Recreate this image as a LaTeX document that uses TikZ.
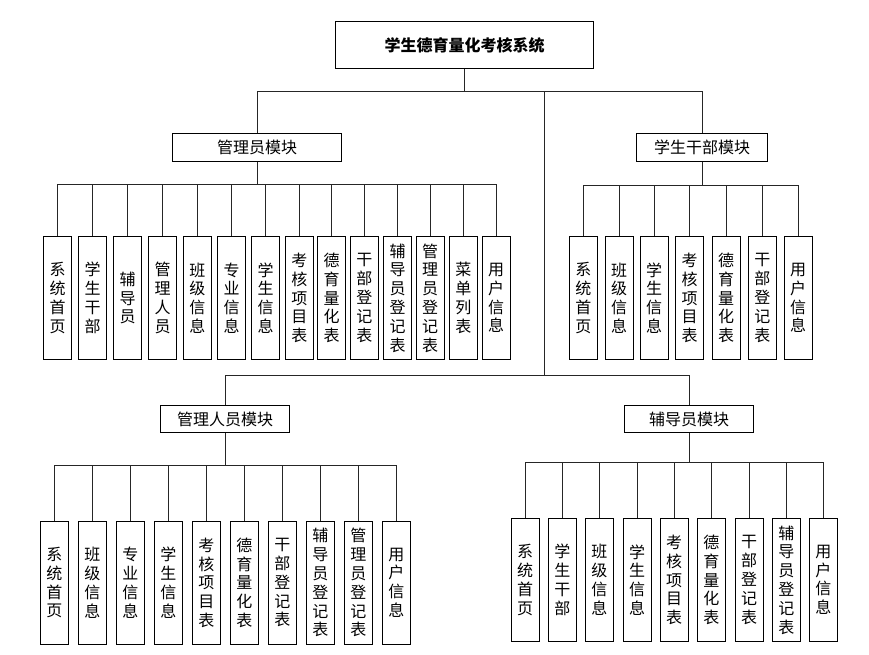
\documentclass[tikz,border=0pt]{standalone}
\usepackage{fontspec}
\setmainfont{Noto Sans CJK SC}
\begin{document}
\begin{tikzpicture}[x=1pt,y=-1pt,
  box/.style={draw=black,line width=1pt,inner sep=0pt,align=center,font=\fontsize{16}{18.8}\selectfont},
  modbox/.style={box,minimum height=28pt},
  leaf/.style={box,minimum width=28pt,minimum height=122.6pt},
  conn/.style={draw=black!85,line width=1pt}]
\useasboundingbox (0,0) rectangle (869,654);
% title
\node[box,minimum width=257.6pt,minimum height=46.6pt,font=\fontsize{16}{19.5}\selectfont\bfseries] (title) at (464.5,45) {学生德育量化考核系统};
% modules
\node[modbox,minimum width=169.4pt] (adm) at (257,147.5) {管理员模块};
\node[modbox,minimum width=130.6pt] (stu) at (702,147.5) {学生干部模块};
\node[modbox,minimum width=128.3pt,minimum height=26.6pt] (mgr) at (225,419) {管理人员模块};
\node[modbox,minimum width=129pt,minimum height=27pt] (cou) at (689,419) {辅导员模块};
% bus coordinates
\coordinate (t0) at (544,91);
\coordinate (t1) at (544,375.7);
\coordinate (b1) at (0,184.5);
\coordinate (b2) at (0,185);
\coordinate (b3) at (0,465.7);
\coordinate (b4) at (0,462.7);
% admin leaves
\node[leaf] (a1) at (57.7,298) {系\\统\\首\\页};
\node[leaf] (a2) at (92.7,298) {学\\生\\干\\部};
\node[leaf] (a3) at (127.7,298) {辅\\导\\员};
\node[leaf] (a4) at (162.7,298) {管\\理\\人\\员};
\node[leaf] (a5) at (197.3,298) {班\\级\\信\\息};
\node[leaf] (a6) at (231.7,298) {专\\业\\信\\息};
\node[leaf] (a7) at (265.7,298) {学\\生\\信\\息};
\node[leaf] (a8) at (299.3,298) {考\\核\\项\\目\\表};
\node[leaf] (a9) at (331.7,298) {德\\育\\量\\化\\表};
\node[leaf] (a10) at (364.3,298) {干\\部\\登\\记\\表};
\node[leaf] (a11) at (397.7,298) {辅\\导\\员\\登\\记\\表};
\node[leaf] (a12) at (430,298) {管\\理\\员\\登\\记\\表};
\node[leaf] (a13) at (463.3,298) {菜\\单\\列\\表};
\node[leaf] (a14) at (496,298) {用\\户\\信\\息};
% student cadre leaves
\node[leaf] (s1) at (583.3,298) {系\\统\\首\\页};
\node[leaf] (s2) at (619,298) {班\\级\\信\\息};
\node[leaf] (s3) at (654,298) {学\\生\\信\\息};
\node[leaf] (s4) at (689.7,298) {考\\核\\项\\目\\表};
\node[leaf] (s5) at (726,298) {德\\育\\量\\化\\表};
\node[leaf] (s6) at (762.3,298) {干\\部\\登\\记\\表};
\node[leaf] (s7) at (798,298) {用\\户\\信\\息};
% manager leaves
\node[leaf] (m1) at (54.3,582.7) {系\\统\\首\\页};
\node[leaf] (m2) at (92.3,582.7) {班\\级\\信\\息};
\node[leaf] (m3) at (130.3,582.7) {专\\业\\信\\息};
\node[leaf] (m4) at (168.3,582.7) {学\\生\\信\\息};
\node[leaf] (m5) at (206.3,582.7) {考\\核\\项\\目\\表};
\node[leaf] (m6) at (244.3,582.7) {德\\育\\量\\化\\表};
\node[leaf] (m7) at (282.3,582.7) {干\\部\\登\\记\\表};
\node[leaf] (m8) at (320.3,582.7) {辅\\导\\员\\登\\记\\表};
\node[leaf] (m9) at (358.3,582.7) {管\\理\\员\\登\\记\\表};
\node[leaf] (m10) at (396.3,582.7) {用\\户\\信\\息};
% counselor leaves
\node[leaf] (c1) at (525,579.9) {系\\统\\首\\页};
\node[leaf] (c2) at (562.3,579.9) {学\\生\\干\\部};
\node[leaf] (c3) at (599.3,579.9) {班\\级\\信\\息};
\node[leaf] (c4) at (637,579.9) {学\\生\\信\\息};
\node[leaf] (c5) at (674,579.9) {考\\核\\项\\目\\表};
\node[leaf] (c6) at (711.3,579.9) {德\\育\\量\\化\\表};
\node[leaf] (c7) at (749,579.9) {干\\部\\登\\记\\表};
\node[leaf] (c8) at (786.3,579.9) {辅\\导\\员\\登\\记\\表};
\node[leaf] (c9) at (823.3,579.9) {用\\户\\信\\息};
% top connectors
\draw[conn] (title.south) -- (title.south |- t0) -| (adm.north);
\draw[conn] (title.south |- t0) -| (stu.north);
\draw[conn] (t0) -- (t1) -| (mgr.north);
\draw[conn] (t1) -| (cou.north);
% leaf connectors
\foreach \i in {1,...,14} \draw[conn] (adm.south) -- (adm.south |- b1) -| (a\i.north);
\foreach \i in {1,...,7} \draw[conn] (stu.south) -- (stu.south |- b2) -| (s\i.north);
\foreach \i in {1,...,10} \draw[conn] (mgr.south) -- (mgr.south |- b3) -| (m\i.north);
\foreach \i in {1,...,9} \draw[conn] (cou.south) -- (cou.south |- b4) -| (c\i.north);
\end{tikzpicture}
\end{document}
